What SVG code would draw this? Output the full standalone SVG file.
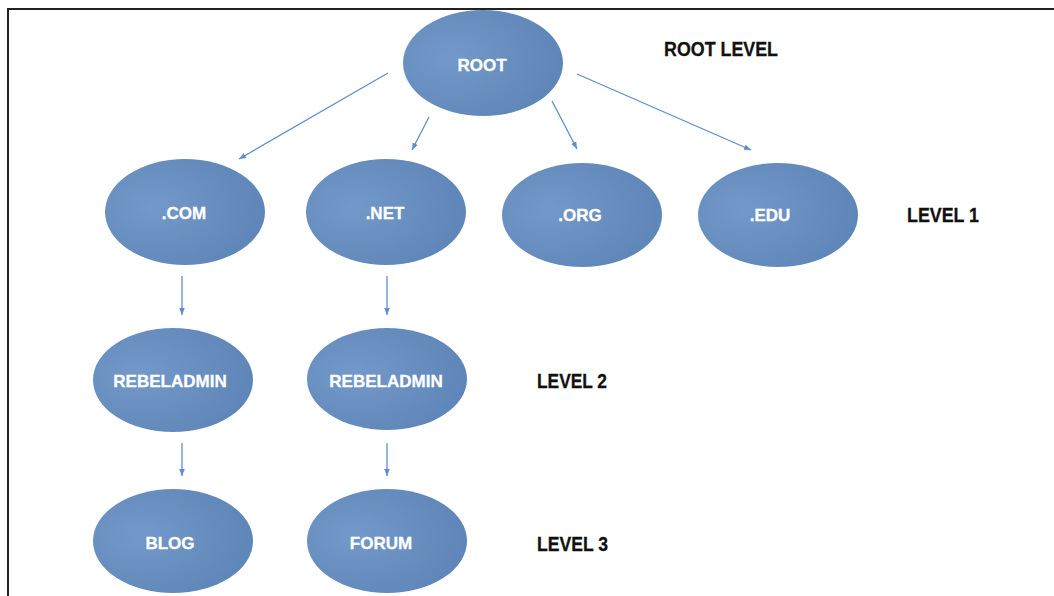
<svg xmlns="http://www.w3.org/2000/svg" width="1054" height="596" viewBox="0 0 1054 596">
  <defs>
    <radialGradient id="g" cx="0.3" cy="0.45" r="0.8">
      <stop offset="0" stop-color="#7299c9"/>
      <stop offset="1" stop-color="#5c83b5"/>
    </radialGradient>
    <marker id="arr" viewBox="0 0 10 10" refX="10" refY="5" markerWidth="7" markerHeight="7" orient="auto" markerUnits="userSpaceOnUse">
      <path d="M0,1 L10,5 L0,9 Z" fill="#5b8fcf"/>
    </marker>
    <style>
      .node { fill: url(#g); }
      .nt { font-family: "Liberation Sans", Arial, sans-serif; font-weight: bold; font-size: 17px; fill: #ffffff; stroke: #ffffff; stroke-width: 0.3; text-anchor: middle; }
      .lv { font-family: "Liberation Sans", Arial, sans-serif; font-weight: bold; font-size: 21px; fill: #111111; stroke: #111111; stroke-width: 0.3; }
      .cn { stroke: #5b8fcf; stroke-width: 1.3; fill: none; marker-end: url(#arr); }
    </style>
  </defs>
  <rect width="1054" height="596" fill="#ffffff"/>
  <path d="M8,596 L8,9 L1054,9" fill="none" stroke="#222222" stroke-width="2"/>

  <g id="connectors">
    <line class="cn" x1="388" y1="73" x2="239" y2="159"/>
    <line class="cn" x1="429" y1="117" x2="412" y2="150"/>
    <line class="cn" x1="552" y1="101" x2="577" y2="149"/>
    <line class="cn" x1="577" y1="74" x2="751" y2="150"/>
    <line class="cn" x1="182" y1="276" x2="182" y2="315"/>
    <line class="cn" x1="387" y1="276" x2="387" y2="315"/>
    <line class="cn" x1="182" y1="443" x2="182" y2="476"/>
    <line class="cn" x1="387" y1="443" x2="387" y2="476"/>
  </g>

  <g id="root">
    <ellipse class="node" cx="483" cy="63" rx="80" ry="53"/>
    <text class="nt" x="482" y="71">ROOT</text>
  </g>
  <g id="com">
    <ellipse class="node" cx="185" cy="212" rx="80" ry="53"/>
    <text class="nt" x="184" y="219">.COM</text>
  </g>
  <g id="net">
    <ellipse class="node" cx="386" cy="212" rx="80" ry="53"/>
    <text class="nt" x="385" y="219">.NET</text>
  </g>
  <g id="org">
    <ellipse class="node" cx="582" cy="215" rx="80" ry="52"/>
    <text class="nt" x="580" y="221">.ORG</text>
  </g>
  <g id="edu">
    <ellipse class="node" cx="778" cy="215" rx="80" ry="52"/>
    <text class="nt" x="770" y="221">.EDU</text>
  </g>
  <g id="rebeladmin-com">
    <ellipse class="node" cx="173" cy="380" rx="80" ry="52"/>
    <text class="nt" x="170" y="387">REBELADMIN</text>
  </g>
  <g id="rebeladmin-net">
    <ellipse class="node" cx="387" cy="379" rx="80" ry="51"/>
    <text class="nt" x="386" y="387">REBELADMIN</text>
  </g>
  <g id="blog">
    <ellipse class="node" cx="173" cy="541" rx="80" ry="52"/>
    <text class="nt" x="170" y="549">BLOG</text>
  </g>
  <g id="forum">
    <ellipse class="node" cx="387" cy="541" rx="80" ry="52"/>
    <text class="nt" x="381" y="549">FORUM</text>
  </g>

  <g id="labels">
    <text class="lv" x="664" y="56" textLength="114" lengthAdjust="spacingAndGlyphs">ROOT LEVEL</text>
    <text class="lv" x="907" y="222" textLength="72" lengthAdjust="spacingAndGlyphs">LEVEL 1</text>
    <text class="lv" x="537" y="388" textLength="70" lengthAdjust="spacingAndGlyphs">LEVEL 2</text>
    <text class="lv" x="537" y="551" textLength="71" lengthAdjust="spacingAndGlyphs">LEVEL 3</text>
  </g>
</svg>
